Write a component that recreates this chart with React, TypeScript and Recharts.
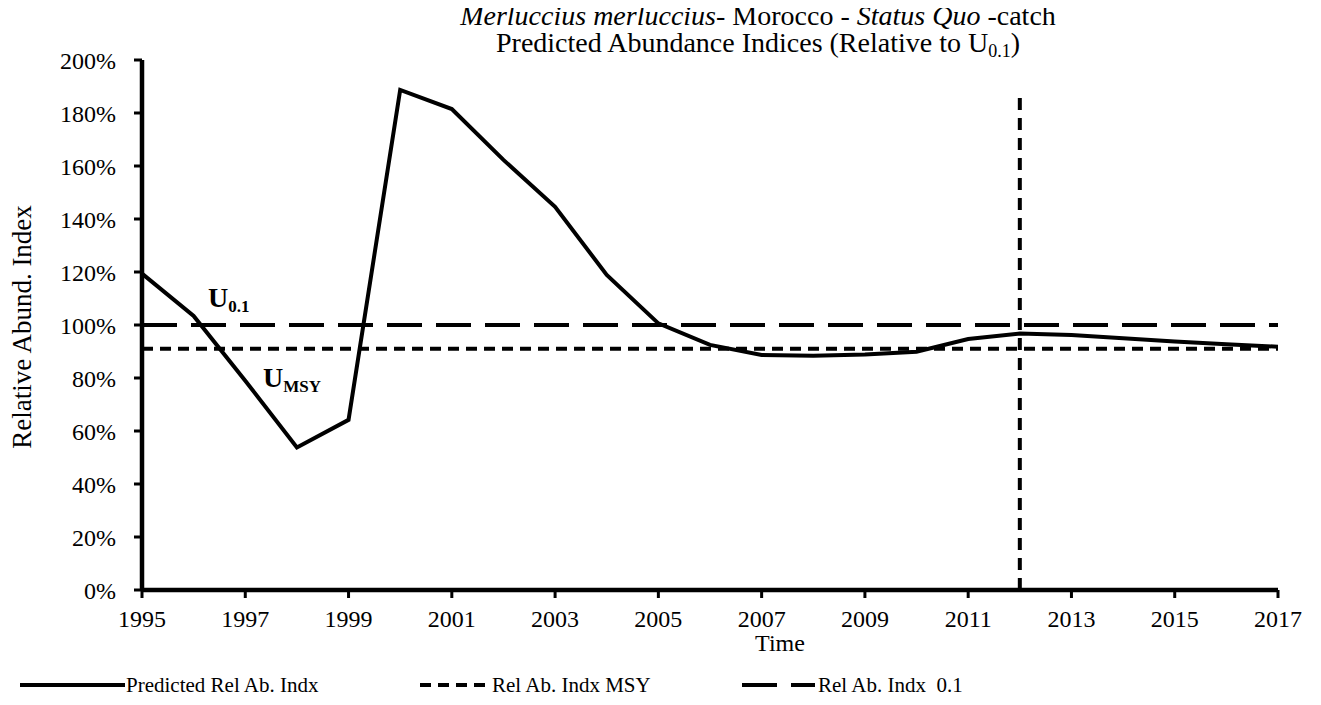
import React from "react";
import { LineChart, Line, XAxis, YAxis, ReferenceLine, Customized } from "recharts";

// values (percent of U0.1)
const years = [
  1995, 1996, 1997, 1998, 1999, 2000, 2001, 2002, 2003, 2004, 2005, 2006,
  2007, 2008, 2009, 2010, 2011, 2012, 2013, 2014, 2015, 2016, 2017,
];
const predicted = [
  119.4, 103.4, 79, 53.8, 64.2, 188.7, 181.5, 162.3, 144.6, 118.9, 100.6, 92.5,
  88.7, 88.4, 88.9, 89.9, 94.7, 96.8, 96.2, 95.0, 93.8, 92.7, 91.8,
];
const msyLevel = 91;
const u01Level = 100;

const xTicks = [1995, 1997, 1999, 2001, 2003, 2005, 2007, 2009, 2011, 2013, 2015, 2017];
const yTicks = [0, 20, 40, 60, 80, 100, 120, 140, 160, 180, 200];

// last historic year, marked by the vertical dotted line
const markYear = 2012;
const markTop = 187;

const FONT = "'Liberation Serif', 'Times New Roman', serif";

const seriesDefs = [
  { key: "pred", name: "Predicted Rel Ab. Indx", dash: undefined as string | undefined },
  { key: "msy", name: "Rel Ab. Indx MSY", dash: "11 7" },
  { key: "u01", name: "Rel Ab. Indx\u00a0 0.1", dash: "35 14" },
];

const data = years.map((y, i) => ({
  year: y,
  pred: predicted[i],
  msy: msyLevel,
  u01: u01Level,
}));

function Decorations() {
  // legend sample positions
  const legendItems = [
    { x1: 20, x2: 125, tx: 126 },
    { x1: 420, x2: 488, tx: 492 },
    { x1: 742, x2: 815, tx: 818 },
  ];
  return (
    <g fontFamily={FONT} fill="#000">
      <text x={758} y={25} textAnchor="middle" fontSize={28}>
        <tspan fontStyle="italic">Merluccius merluccius</tspan>
        <tspan>- Morocco - </tspan>
        <tspan fontStyle="italic">Status Quo</tspan>
        <tspan> -catch</tspan>
      </text>
      <text x={758} y={52} textAnchor="middle" fontSize={28}>
        Predicted Abundance Indices (Relative to U
        <tspan fontSize={18} dy={5}>0.1</tspan>
        <tspan dy={-5}>)</tspan>
      </text>
      <text
        x={22}
        y={327}
        textAnchor="middle"
        dominantBaseline="central"
        fontSize={27}
        transform="rotate(-90 22 327)"
      >
        Relative Abund. Index
      </text>
      <text x={780} y={651} textAnchor="middle" fontSize={24}>
        Time
      </text>
      <text x={208} y={307} fontSize={28} fontWeight="bold">
        U<tspan fontSize={17} dy={5}>0.1</tspan>
      </text>
      <text x={263} y={387} fontSize={28} fontWeight="bold">
        U<tspan fontSize={17} dy={5}>MSY</tspan>
      </text>
      {seriesDefs.map((s, i) => {
        const it = legendItems[i];
        return (
          <g key={s.key}>
            <line
              x1={it.x1}
              x2={it.x2}
              y1={685}
              y2={685}
              stroke="#000"
              strokeWidth={4}
              strokeDasharray={s.dash}
            />
            <text x={it.tx} y={692} fontSize={21}>
              {s.name}
            </text>
          </g>
        );
      })}
    </g>
  );
}

export default function App() {
  return (
    <div style={{ margin: -8 }}>
      <LineChart
        width={1321}
        height={705}
        data={data}
        margin={{ top: 60, right: 43, bottom: 85, left: 0 }}
      >
        <XAxis
          dataKey="year"
          type="number"
          domain={[1995, 2017]}
          ticks={xTicks}
          allowDataOverflow
          height={30}
          axisLine={{ stroke: "#000", strokeWidth: 4.5 }}
          tickLine={{ stroke: "#000", strokeWidth: 3 }}
          tickSize={8}
          tickMargin={12}
          tick={{ fill: "#000", fontSize: 24, fontFamily: FONT }}
        />
        <YAxis
          type="number"
          domain={[0, 200]}
          ticks={yTicks}
          width={142}
          tickFormatter={(v: number) => `${v}%`}
          axisLine={{ stroke: "#000", strokeWidth: 4.5 }}
          tickLine={{ stroke: "#000", strokeWidth: 3 }}
          tickSize={8}
          tickMargin={18}
          tick={{ fill: "#000", fontSize: 24, fontFamily: FONT }}
        />
        <Line
          dataKey="u01"
          name={seriesDefs[2].name}
          stroke="#000"
          strokeWidth={4}
          strokeDasharray={seriesDefs[2].dash}
          dot={false}
          isAnimationActive={false}
        />
        <Line
          dataKey="msy"
          name={seriesDefs[1].name}
          stroke="#000"
          strokeWidth={4}
          strokeDasharray={seriesDefs[1].dash}
          dot={false}
          isAnimationActive={false}
        />
        <Line
          dataKey="pred"
          name={seriesDefs[0].name}
          stroke="#000"
          strokeWidth={4}
          dot={false}
          isAnimationActive={false}
        />
        <ReferenceLine
          segment={[
            { x: markYear, y: 0 },
            { x: markYear, y: markTop },
          ]}
          stroke="#000"
          strokeWidth={4}
          strokeDasharray="12 8"
        />
        <Customized component={<Decorations />} />
      </LineChart>
    </div>
  );
}
